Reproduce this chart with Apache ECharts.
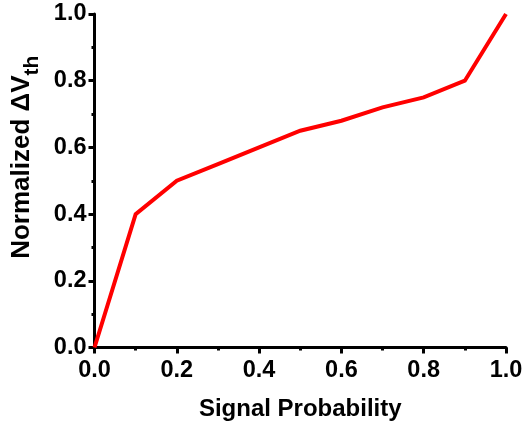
<!DOCTYPE html>
<html>
<head>
<meta charset="utf-8">
<script src="https://cdn.jsdelivr.net/npm/echarts@6/dist/echarts.min.js"></script>
<style>
  html, body { margin: 0; padding: 0; background: #fff; }
  #chart { width: 523px; height: 432px; }
</style>
</head>
<body>
<div id="chart"></div>
<script>
// Signal probability vs. normalized threshold-voltage shift
const signalProbability = [0.0, 0.1, 0.2, 0.3, 0.4, 0.5, 0.6, 0.7, 0.8, 0.9, 1.0];
const normalizedDeltaVth = [0.0, 0.40, 0.50, 0.55, 0.60, 0.65, 0.68, 0.72, 0.75, 0.80, 1.0];
const xTitle = 'Signal Probability';
const yTitleMain = 'Normalized \u0394V';
const yTitleSub = 'th';

const FONT = '"Liberation Sans", Arial, Helvetica, sans-serif';

const chart = echarts.init(document.getElementById('chart'));

const axisCommon = {
  type: 'value',
  min: 0,
  max: 1,
  interval: 0.2,
  splitLine: { show: false },
  axisLine: { show: true, lineStyle: { color: '#000', width: 3 } },
  axisTick: { show: true, inside: false, length: 6, lineStyle: { color: '#000', width: 3 } },
  minorTick: { show: true, splitNumber: 2, length: 3, lineStyle: { color: '#000', width: 3 } },
  axisLabel: {
    color: '#000',
    fontFamily: FONT,
    fontWeight: 'bold',
    fontSize: 23.5,
    formatter: v => v.toFixed(1)
  }
};

chart.setOption({
  animation: false,
  backgroundColor: '#fff',
  grid: { left: 94.5, right: 17, top: 14, bottom: 84.5, containLabel: false, outerBoundsMode: 'none' },
  xAxis: Object.assign({}, axisCommon, {
    name: xTitle,
    nameLocation: 'middle',
    nameGap: 50,
    nameTextStyle: { color: '#000', fontFamily: FONT, fontWeight: 'bold', fontSize: 24 },
    axisLabel: Object.assign({}, axisCommon.axisLabel, { margin: 11 })
  }),
  yAxis: Object.assign({}, axisCommon, {
    name: '{a|' + yTitleMain + '}{b|' + yTitleSub + '}',
    nameLocation: 'middle',
    nameRotate: 90,
    nameGap: 51,
    nameTextStyle: {
      color: '#000', fontFamily: FONT, fontWeight: 'bold', fontSize: 26,
      padding: [0, 0, 0, 47],
      rich: {
        a: { color: '#000', fontFamily: FONT, fontWeight: 'bold', fontSize: 26, lineHeight: 28, verticalAlign: 'top' },
        b: { color: '#000', fontFamily: FONT, fontWeight: 'bold', fontSize: 21, lineHeight: 34, verticalAlign: 'bottom' }
      }
    },
    axisLabel: Object.assign({}, axisCommon.axisLabel, { margin: 8 })
  }),
  series: [{
    type: 'line',
    data: signalProbability.map((x, i) => [x, normalizedDeltaVth[i]]),
    showSymbol: false,
    symbol: 'none',
    lineStyle: { color: '#ff0000', width: 4, join: 'miter' },
    clip: false
  }]
});
</script>
</body>
</html>
